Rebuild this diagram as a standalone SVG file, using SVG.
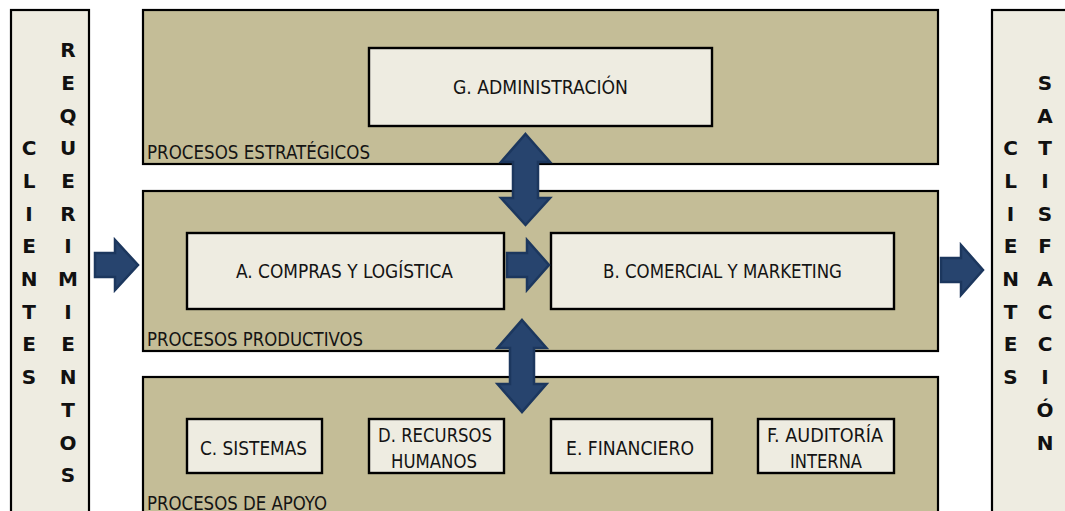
<svg xmlns="http://www.w3.org/2000/svg" width="1065" height="511" viewBox="0 0 1065 511">
<style>
.band{fill:#C4BD97;stroke:#000;stroke-width:2.2}
.col{fill:#EEECE1;stroke:#000;stroke-width:2.2}
.box{fill:#EEECE1;stroke:#000;stroke-width:2.4}
.t{font-family:"DejaVu Sans Condensed","DejaVu Sans",sans-serif;font-stretch:condensed;font-size:19.5px;fill:#141414}
.v{font-family:"DejaVu Sans","Liberation Sans",sans-serif;font-weight:bold;font-size:20px;fill:#111;text-anchor:middle}
.arr{fill:#27446E;stroke:#1C375E;stroke-width:2.5;stroke-linejoin:miter}
</style>
<rect width="1065" height="511" fill="#fff"/>
<g id="clientes-entrada">
<rect class="col" x="11" y="10" width="78" height="520"/>
<text class="v" x="29"><tspan x="29" y="155">C</tspan><tspan x="29" y="188">L</tspan><tspan x="29" y="220.5">I</tspan><tspan x="29" y="253">E</tspan><tspan x="29" y="286">N</tspan><tspan x="29" y="318.5">T</tspan><tspan x="29" y="351">E</tspan><tspan x="29" y="384">S</tspan></text>
<text class="v" x="68"><tspan x="68" y="57">R</tspan><tspan x="68" y="89.5">E</tspan><tspan x="68" y="122.5">Q</tspan><tspan x="68" y="155">U</tspan><tspan x="68" y="188">E</tspan><tspan x="68" y="220.5">R</tspan><tspan x="68" y="253">I</tspan><tspan x="68" y="286">M</tspan><tspan x="68" y="318.5">I</tspan><tspan x="68" y="351">E</tspan><tspan x="68" y="384">N</tspan><tspan x="68" y="416.5">T</tspan><tspan x="68" y="449.5">O</tspan><tspan x="68" y="482">S</tspan></text>
</g>
<g id="clientes-salida">
<rect class="col" x="992" y="10" width="90" height="520"/>
<text class="v" x="1010.5"><tspan x="1010.5" y="155">C</tspan><tspan x="1010.5" y="188">L</tspan><tspan x="1010.5" y="220.5">I</tspan><tspan x="1010.5" y="253">E</tspan><tspan x="1010.5" y="286">N</tspan><tspan x="1010.5" y="318.5">T</tspan><tspan x="1010.5" y="351">E</tspan><tspan x="1010.5" y="384">S</tspan></text>
<text class="v" x="1045"><tspan x="1045" y="89.5">S</tspan><tspan x="1045" y="122.5">A</tspan><tspan x="1045" y="155">T</tspan><tspan x="1045" y="188">I</tspan><tspan x="1045" y="220.5">S</tspan><tspan x="1045" y="253">F</tspan><tspan x="1045" y="286">A</tspan><tspan x="1045" y="318.5">C</tspan><tspan x="1045" y="351">C</tspan><tspan x="1045" y="384">I</tspan><tspan x="1045" y="416.5">Ó</tspan><tspan x="1045" y="449.5">N</tspan></text>
</g>
<g id="procesos-estrategicos">
<rect class="band" x="143" y="10" width="795" height="154"/>
<text class="t" x="147" y="159" textLength="223" lengthAdjust="spacingAndGlyphs">PROCESOS ESTRATÉGICOS</text>
</g>
<g id="procesos-productivos">
<rect class="band" x="143" y="191" width="795" height="160"/>
<text class="t" x="147" y="345.5" textLength="216" lengthAdjust="spacingAndGlyphs">PROCESOS PRODUCTIVOS</text>
</g>
<g id="procesos-apoyo">
<rect class="band" x="143" y="377" width="795" height="160"/>
<text class="t" x="147" y="510" textLength="180" lengthAdjust="spacingAndGlyphs">PROCESOS DE APOYO</text>
</g>
<g id="g-administracion">
<rect class="box" x="369" y="48" width="343" height="78"/>
<text class="t" x="453" y="94" textLength="175" lengthAdjust="spacingAndGlyphs">G. ADMINISTRACIÓN</text>
</g>
<g id="a-compras">
<rect class="box" x="187" y="233" width="317" height="76"/>
<text class="t" x="236" y="278" textLength="217" lengthAdjust="spacingAndGlyphs">A. COMPRAS Y LOGÍSTICA</text>
</g>
<g id="b-comercial">
<rect class="box" x="551" y="233" width="343" height="76"/>
<text class="t" x="603" y="278" textLength="239" lengthAdjust="spacingAndGlyphs">B. COMERCIAL Y MARKETING</text>
</g>
<g id="c-sistemas">
<rect class="box" x="187" y="419" width="135" height="54"/>
<text class="t" x="200" y="455" textLength="107" lengthAdjust="spacingAndGlyphs">C. SISTEMAS</text>
</g>
<g id="d-recursos">
<rect class="box" x="369" y="419" width="135" height="54"/>
<text class="t" x="378" y="441.5" textLength="114" lengthAdjust="spacingAndGlyphs">D. RECURSOS</text>
<text class="t" x="391" y="467.5" textLength="86" lengthAdjust="spacingAndGlyphs">HUMANOS</text>
</g>
<g id="e-financiero">
<rect class="box" x="551" y="419" width="161" height="54"/>
<text class="t" x="566" y="455" textLength="128" lengthAdjust="spacingAndGlyphs">E. FINANCIERO</text>
</g>
<g id="f-auditoria">
<rect class="box" x="758" y="419" width="136" height="54"/>
<text class="t" x="767" y="441.5" textLength="116" lengthAdjust="spacingAndGlyphs">F. AUDITORÍA</text>
<text class="t" x="790" y="467.5" textLength="72" lengthAdjust="spacingAndGlyphs">INTERNA</text>
</g>
<g id="connectors">
<path class="arr" d="M95,253 H115 V240 L138,265 L115,290 V277 H95 Z"/>
<path class="arr" d="M507,253 H527 V240 L549,265 L527,290 V277 H507 Z"/>
<path class="arr" d="M941,258 H961 V245 L983,270 L961,295 V282 H941 Z"/>
<path class="arr" d="M525.5,134 L550,162 H538 V198 H550 L525.5,225 L501,198 H513 V162 H501 Z"/>
<path class="arr" d="M522,320 L546.5,348 H534 V384 H546.5 L522,412 L497.5,384 H510 V348 H497.5 Z"/>
</g>
</svg>
